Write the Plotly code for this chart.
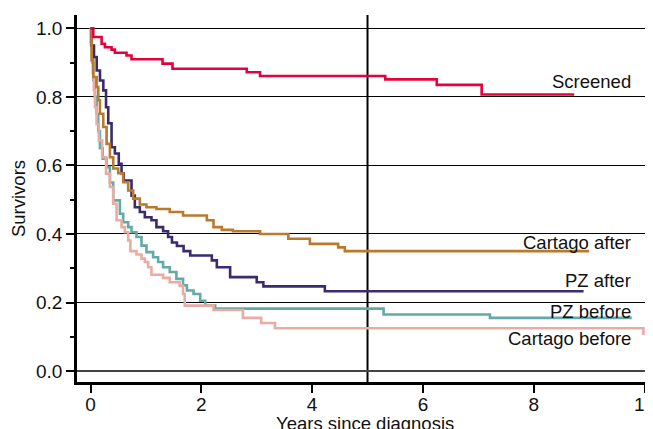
import plotly.graph_objects as go

# ---- data ----
screened_t = [0, 0.05, 0.20, 0.26, 0.38, 0.44, 0.65, 0.74, 1.30, 1.48, 2.82, 3.06, 5.32, 6.25, 7.06, 8.73]
screened_s = [1.0, 0.975, 0.955, 0.945, 0.938, 0.929, 0.921, 0.910, 0.897, 0.882, 0.872, 0.861, 0.851, 0.835, 0.807, 0.807]

cart_after_t = [0, 0.02, 0.05, 0.11, 0.14, 0.17, 0.23, 0.29, 0.35, 0.41, 0.50, 0.59, 0.68, 0.77, 0.89, 1.01,
                1.19, 1.43, 1.67, 2.10, 2.22, 2.37, 2.57, 3.06, 3.57, 3.96, 4.47, 4.59, 9.00]
cart_after_s = [1.0, 0.907, 0.858, 0.829, 0.790, 0.751, 0.712, 0.663, 0.624, 0.591, 0.577, 0.551, 0.527, 0.503,
                0.486, 0.478, 0.473, 0.464, 0.454, 0.440, 0.420, 0.412, 0.408, 0.400, 0.386, 0.371, 0.361, 0.350, 0.350]

pz_after_t = [0, 0.02, 0.063, 0.112, 0.171, 0.231, 0.28, 0.32, 0.38, 0.44, 0.51, 0.56, 0.60, 0.74, 0.80, 0.89,
              0.98, 1.10, 1.19, 1.31, 1.40, 1.47, 1.56, 1.68, 1.80, 2.19, 2.28, 2.52, 3.00, 3.12, 4.23, 8.90]
pz_after_s = [1.0, 0.95, 0.916, 0.877, 0.848, 0.819, 0.770, 0.723, 0.653, 0.635, 0.605, 0.577, 0.556, 0.512, 0.478,
              0.464, 0.449, 0.440, 0.420, 0.408, 0.391, 0.375, 0.365, 0.350, 0.337, 0.323, 0.303, 0.274, 0.259,
              0.247, 0.233, 0.233]

pz_before_t = [0, 0.01, 0.03, 0.05, 0.08, 0.11, 0.14, 0.17, 0.22, 0.29, 0.35, 0.41, 0.53, 0.59, 0.68, 0.74, 0.83,
               0.92, 1.01, 1.13, 1.22, 1.31, 1.43, 1.55, 1.67, 1.74, 1.86, 1.98, 2.07, 2.25, 5.29, 7.21, 9.77]
pz_before_s = [1.0, 0.95, 0.90, 0.85, 0.80, 0.75, 0.70, 0.65, 0.62, 0.595, 0.55, 0.498, 0.459, 0.434, 0.420, 0.405,
               0.391, 0.366, 0.347, 0.332, 0.318, 0.303, 0.289, 0.269, 0.250, 0.235, 0.225, 0.205, 0.191, 0.182,
               0.165, 0.155, 0.155]

cart_before_t = [0, 0.005, 0.02, 0.04, 0.06, 0.08, 0.11, 0.15, 0.21, 0.28, 0.35, 0.41, 0.47, 0.56, 0.62, 0.68,
                 0.72, 0.83, 0.92, 0.98, 1.04, 1.10, 1.31, 1.43, 1.61, 1.67, 1.70, 2.22, 2.75, 3.08, 3.33, 9.98, 9.98]
cart_before_s = [1.0, 0.96, 0.92, 0.87, 0.82, 0.77, 0.72, 0.673, 0.624, 0.576, 0.537, 0.488, 0.440, 0.420, 0.405,
                 0.381, 0.350, 0.340, 0.328, 0.318, 0.303, 0.281, 0.272, 0.259, 0.248, 0.225, 0.191, 0.178, 0.155,
                 0.140, 0.125, 0.125, 0.105]

labels = ["Screened", "Cartago after", "PZ after", "PZ before", "Cartago before"]
label_y = [0.846, 0.376, 0.264, 0.174, 0.094]
label_x = 9.79

x_ticks = [0, 2, 4, 6, 8, 10]
y_ticks = [0.0, 0.2, 0.4, 0.6, 0.8, 1.0]
y_tick_text = ["0.0", "0.2", "0.4", "0.6", "0.8", "1.0"]
x_title = "Years since diagnosis"
y_title = "Survivors"

FONT = "Liberation Sans, Arial, Helvetica, sans-serif"

series = [
    (pz_before_t, pz_before_s, "#62aaa8"),
    (cart_before_t, cart_before_s, "#e9aca3"),
    (pz_after_t, pz_after_s, "#3b2b6b"),
    (cart_after_t, cart_after_s, "#b87a2c"),
    (screened_t, screened_s, "#e2023d"),
]

fig = go.Figure()
for t, s, c in series:
    fig.add_trace(go.Scatter(x=t, y=s, mode="lines", line=dict(color=c, width=2.6, shape="hv"),
                             showlegend=False, hoverinfo="skip", cliponaxis=False))

for txt, yv in zip(labels, label_y):
    fig.add_annotation(x=label_x, y=yv, text=txt, showarrow=False, xanchor="right", yanchor="middle",
                       font=dict(family=FONT, size=18.5, color="#111111"))

# x-axis title placed just below the tick labels (as in the reference, partly cut by the bottom edge)
fig.add_annotation(x=0.5, y=-0.113, xref="paper", yref="paper", text=x_title, showarrow=False,
                   xanchor="center", yanchor="middle", font=dict(family=FONT, size=18.5, color="#111111"))

# vertical reference line at 5 years
fig.add_shape(type="line", x0=5, x1=5, y0=0, y1=1, xref="x", yref="paper",
              line=dict(color="black", width=2), layer="below")

# the page body adds an 8px margin, so the figure is 8px smaller than the window
fig.update_layout(
    width=645, height=421,
    margin=dict(l=69, r=0, t=7, b=47, autoexpand=False),
    paper_bgcolor="white", plot_bgcolor="white",
    font=dict(family=FONT, size=18.5, color="#111111"),
    xaxis=dict(range=[-0.244, 10.153], tickvals=x_ticks, ticks="outside", ticklen=8, tickwidth=1.5,
               tickcolor="black", showline=True, linecolor="black", linewidth=2.5,
               showgrid=False, zeroline=False, tickfont=dict(size=19), automargin=False,
               ticklabeloverflow="allow", ticklabelstandoff=-5),
    yaxis=dict(range=[-0.032, 1.039], tickvals=y_ticks, ticktext=y_tick_text, ticks="outside", ticklen=8,
               tickwidth=1.5, tickcolor="black", showline=True, linecolor="black", linewidth=2.5,
               showgrid=True, gridcolor="black", gridwidth=1.2, zeroline=True, zerolinecolor="#444444",
               zerolinewidth=1.5, tickfont=dict(size=19), automargin=False,
               minor=dict(tickvals=[0.1, 0.3, 0.5, 0.7, 0.9], ticks="outside", ticklen=4, tickwidth=1.5,
                          tickcolor="black", showgrid=False),
               title=dict(text=y_title, font=dict(size=18.5), standoff=9)),
)

fig.write_html("out.html")
